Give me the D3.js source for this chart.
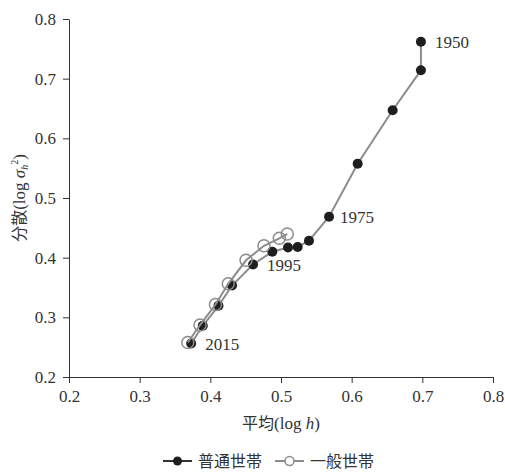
<!DOCTYPE html>
<html>
<head>
<meta charset="utf-8">
<script src="https://cdnjs.cloudflare.com/ajax/libs/d3/7.8.5/d3.min.js"></script>
<style>
  body { margin: 0; background: #fff; }
  svg { display: block; }
  .axis text { font-family: "Liberation Serif", serif; font-size: 17px; fill: #333; }
  .axis path, .axis line { stroke: #333; }
</style>
</head>
<body>
<div id="chart"></div>
<script>
const w = 505;
const h = 474;

// 普通世帯 (mean, variance)
const futsuX = [0.698, 0.698, 0.658, 0.6085, 0.568, 0.5396, 0.5236, 0.5099, 0.4877, 0.4604, 0.4307, 0.4115, 0.3893, 0.3729];
const futsuY = [0.762, 0.714, 0.647, 0.5575, 0.4687, 0.4284, 0.4179, 0.417, 0.41, 0.3885, 0.3533, 0.3193, 0.2858, 0.2561];
// 一般世帯
const ippanX = [0.5089, 0.4976, 0.4759, 0.4505, 0.4254, 0.4073, 0.3854, 0.3681];
const ippanY = [0.4397, 0.4324, 0.4199, 0.3956, 0.3562, 0.3215, 0.2871, 0.2578];

const yearLabels = ["1950", "1975", "1995", "2015"];
const yearIndex = [0, 4, 9, 13];

const xTicks = [0.2, 0.3, 0.4, 0.5, 0.6, 0.7, 0.8];
const yTicks = [0.2, 0.3, 0.4, 0.5, 0.6, 0.7, 0.8];
const seriesNames = ["普通世帯", "一般世帯"];

const x = d3.scaleLinear().domain([0.2, 0.8]).range([69, 493]);
const y = d3.scaleLinear().domain([0.2, 0.8]).range([377, 19]);

const svg = d3.select("#chart").append("svg")
  .attr("width", w)
  .attr("height", h);

svg.append("g")
  .attr("class", "axis")
  .attr("transform", "translate(0," + y(0.2) + ")")
  .call(d3.axisBottom(x).tickValues(xTicks).tickFormat(d3.format(".1f")).tickSize(6).tickSizeOuter(0).tickPadding(7));

svg.append("g")
  .attr("class", "axis")
  .attr("transform", "translate(" + x(0.2) + ",0)")
  .call(d3.axisLeft(y).tickValues(yTicks).tickFormat(d3.format(".1f")).tickSize(6).tickSizeOuter(0).tickPadding(7));

svg.selectAll(".axis .domain").attr("stroke", "#333");

const futsu = futsuX.map((v, i) => [v, futsuY[i]]);
const ippan = ippanX.map((v, i) => [v, ippanY[i]]);

const line = d3.line().x(d => x(d[0])).y(d => y(d[1]));

// 普通世帯
svg.append("path")
  .datum(futsu)
  .attr("d", line)
  .attr("fill", "none")
  .attr("stroke", "#8c8c8c")
  .attr("stroke-width", 2);

svg.selectAll(".dot")
  .data(futsu)
  .enter()
  .append("circle")
  .attr("class", "dot")
  .attr("cx", d => x(d[0]))
  .attr("cy", d => y(d[1]))
  .attr("r", 5)
  .attr("fill", "#1e1e1e");

// 一般世帯
svg.append("path")
  .datum(ippan)
  .attr("d", line)
  .attr("fill", "none")
  .attr("stroke", "#8c8c8c")
  .attr("stroke-width", 2);

svg.selectAll(".ring")
  .data(ippan)
  .enter()
  .append("circle")
  .attr("class", "ring")
  .attr("cx", d => x(d[0]))
  .attr("cy", d => y(d[1]))
  .attr("r", 6)
  .attr("fill", "none")
  .attr("stroke", "#8c8c8c")
  .attr("stroke-width", 1.5);

// year labels
const labelOffsets = [[14, 6], [11, 6], [14, 6], [14, 6]];
svg.selectAll(".yr")
  .data(yearLabels)
  .enter()
  .append("text")
  .attr("class", "yr")
  .attr("x", (d, i) => x(futsu[yearIndex[i]][0]) + labelOffsets[i][0])
  .attr("y", (d, i) => y(futsu[yearIndex[i]][1]) + labelOffsets[i][1])
  .attr("font-family", "Liberation Serif, serif")
  .attr("font-size", 17)
  .attr("fill", "#333")
  .text(d => d);

// axis titles
const xt = svg.append("text")
  .attr("x", 281)
  .attr("y", 429)
  .attr("text-anchor", "middle")
  .attr("font-size", 16)
  .attr("fill", "#333");
xt.append("tspan").attr("font-family", "Noto Sans CJK JP").text("平均");
xt.append("tspan").attr("font-family", "Liberation Serif").attr("font-size", 17).text("(log ");
xt.append("tspan").attr("font-family", "Liberation Serif").attr("font-size", 17).attr("font-style", "italic").text("h");
xt.append("tspan").attr("font-family", "Liberation Serif").attr("font-size", 17).text(")");

const yt = svg.append("text")
  .attr("transform", "translate(25," + 198 + ") rotate(-90)")
  .attr("text-anchor", "middle")
  .attr("font-size", 16)
  .attr("fill", "#333");
yt.append("tspan").attr("font-family", "Noto Sans CJK JP").text("分散");
yt.append("tspan").attr("font-family", "Liberation Serif").attr("font-size", 17).text("(log ");
yt.append("tspan").attr("font-family", "Liberation Serif").attr("font-size", 17).attr("font-style", "italic").text("σ");
yt.append("tspan").attr("font-family", "Liberation Serif").attr("font-size", 10).attr("font-style", "italic").attr("dy", 3).text("h");
yt.append("tspan").attr("font-family", "Liberation Serif").attr("font-size", 10).attr("dy", -10).text("2");
yt.append("tspan").attr("font-family", "Liberation Serif").attr("font-size", 17).attr("dy", 7).text(")");

// legend
const legendX = [163, 275];
const legend = svg.selectAll(".leg")
  .data(seriesNames)
  .enter()
  .append("g")
  .attr("class", "leg")
  .attr("transform", (d, i) => "translate(" + legendX[i] + ",461)");

legend.append("line")
  .attr("x1", 0).attr("x2", 29)
  .attr("y1", 0).attr("y2", 0)
  .attr("stroke", (d, i) => i == 0 ? "#333" : "#8c8c8c")
  .attr("stroke-width", 2);

legend.append("circle")
  .attr("cx", 14.5)
  .attr("cy", 0)
  .attr("r", 4.5)
  .attr("fill", (d, i) => i == 0 ? "#1e1e1e" : "#fff")
  .attr("stroke", (d, i) => i == 0 ? "none" : "#8c8c8c")
  .attr("stroke-width", 1.5);

legend.append("text")
  .attr("x", 35)
  .attr("y", 6)
  .attr("font-family", "Noto Sans CJK JP")
  .attr("font-size", 16)
  .attr("fill", "#333")
  .text(d => d);
</script>
</body>
</html>
